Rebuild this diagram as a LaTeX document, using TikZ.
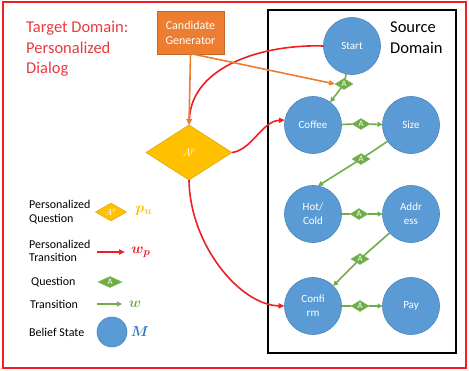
\documentclass[tikz,border=0pt]{standalone}
\usepackage{fontspec}
\usepackage{bm}
\setmainfont{Carlito}
\usetikzlibrary{shapes.geometric,arrows.meta}
\definecolor{fred}{HTML}{F01E23}
\definecolor{tred}{HTML}{EA3A3F}
\definecolor{orng}{HTML}{ED7D31}
\definecolor{orngd}{HTML}{C5682A}
\definecolor{blu}{HTML}{5B9BD5}
\definecolor{blud}{HTML}{4A85BD}
\definecolor{grn}{HTML}{70AD47}
\definecolor{gold}{HTML}{FFC000}
\definecolor{goldd}{HTML}{D9A300}
\definecolor{mblue}{HTML}{2E75C6}
\tikzset{
  state/.style={circle, fill=blu, draw=blud, line width=0.6pt, minimum size=57pt, inner sep=0pt, outer sep=0pt, text=white, align=center, font=\fontsize{11}{14}\selectfont},
  qa/.style={diamond, fill=grn, draw=grn!85!white, line width=0.4pt, minimum width=18pt, minimum height=11pt, inner sep=0pt, outer sep=0pt, text=white, font=\fontsize{8.5}{8.5}\selectfont, text height=4pt, text depth=0pt},
  pq/.style={diamond, fill=gold, draw=goldd, line width=0.5pt, inner sep=0pt, outer sep=0pt, text=white},
  gline/.style={draw=grn, line width=1.6pt},
  garrow/.style={draw=grn, line width=1.6pt, -{Triangle[length=5pt,width=5pt]}},
  rarrow/.style={draw=fred, line width=1.6pt, -{Triangle[length=6pt,width=5pt]}},
  oarrow/.style={draw=orng, line width=1.6pt, -{Triangle[length=6pt,width=5pt]}},
  legtext/.style={anchor=west, inner sep=0pt, align=left, font=\fontsize{12}{13.5}\selectfont},
  bigtext/.style={anchor=north west, inner sep=0pt, align=left, font=\fontsize{16.5}{20.5}\selectfont},
  mathsym/.style={inner sep=0pt, font=\fontsize{15}{15}\selectfont}
}
\begin{document}
\begin{tikzpicture}[x=1pt,y=-1pt]
\useasboundingbox (0,0) rectangle (469,370);
% frames
\draw[fred, line width=2pt] (3,2) rectangle (466,368);
\draw[black, line width=1.5pt] (268,10) rectangle (456,353);
% titles
\node[bigtext, text=tred] (tgt) at (26,21) {Target Domain:\\Personalized\\Dialog};
\node[bigtext] (src) at (390,22) {Source\\Domain};
% candidate generator
\node[rectangle, fill=orng, draw=orngd, line width=0.5pt, minimum width=67pt, minimum height=43pt, inner sep=0pt, outer sep=0pt, text=white, align=center, font=\fontsize{12}{15}\selectfont] (cand) at (190.5,32.5) {Candidate\\Generator};
% big personalized question
\node[pq, minimum width=86pt, minimum height=55pt, font=\fontsize{11}{11}\selectfont] (bigd) at (189,152.5) {$A^p$};
% states
\node[state] (start) at (352,46) {Start};
\node[state] (coffee) at (313,125) {Coffee};
\node[state] (size) at (411,125) {Size};
\node[state] (hot) at (313,214) {Hot/\\Cold};
\node[state] (addr) at (411,214) {Addr\\ess};
\node[state] (confirm) at (313,306) {Confi\\rm};
\node[state] (pay) at (411,306) {Pay};
% questions
\node[qa] (q1) at (344,84) {A};
\node[qa] (q2) at (361,124) {A};
\node[qa] (q3) at (361,159) {A};
\node[qa] (q4) at (359,214) {A};
\node[qa] (q5) at (360,259) {A};
\node[qa] (q6) at (360,306) {A};
% green transitions
\draw[gline] (start) -- (q1);
\draw[garrow] (q1) -- (coffee);
\draw[gline] (coffee) -- (q2);
\draw[garrow] (q2) -- (size);
\draw[gline] (size.215) -- (q3);
\draw[garrow] (q3) -- (hot.80);
\draw[gline] (hot) -- (q4);
\draw[garrow] (q4) -- (addr);
\draw[gline] (addr) -- (q5);
\draw[garrow] (q5) -- (confirm);
\draw[gline] (confirm) -- (q6);
\draw[garrow] (q6) -- (pay);
% red personalized transitions
\draw[rarrow] (start.west) .. controls (265,44) and (192,65) .. (bigd.north);
\draw[rarrow] (bigd.east) .. controls (252,150) and (262,121) .. (coffee.170);
\draw[rarrow] (bigd.south) .. controls (190,245) and (240,305) .. (confirm.west);
% orange
\draw[oarrow] (cand.south) -- (bigd.north);
\draw[oarrow] ([xshift=2pt]cand.south) -- (q1.west);
% legend
\node[legtext] (l1) at (29,212) {Personalized\\Question};
\node[pq, minimum width=31pt, minimum height=16pt, font=\fontsize{9}{9}\selectfont] (l1d) at (111,212) {$A^p$};
\node[mathsym, text=gold] (l1m) at (144,211) {$\bm{p_u}$};
\node[legtext] (l2) at (29,251) {Personalized\\Transition};
\coordinate (l2a) at (97,252);
\coordinate (l2b) at (125,252);
\draw[rarrow] (l2a) -- (l2b);
\node[mathsym, text=fred] (l2m) at (141,252) {$\bm{w_p}$};
\node[legtext] (l3) at (31,282) {Question};
\node[qa, minimum width=24pt] (l3d) at (110,282) {A};
\node[legtext] (l4) at (30,304.5) {Transition};
\coordinate (l4a) at (97,304);
\coordinate (l4b) at (122,304);
\draw[garrow] (l4a) -- (l4b);
\node[mathsym, text=grn] (l4m) at (135,304) {$\bm{w}$};
\node[legtext] (l5) at (29,332.5) {Belief State};
\node[state, minimum size=30pt] (l5c) at (112,332) {};
\node[mathsym, text=mblue] (l5m) at (140,332) {$\bm{M}$};
\end{tikzpicture}
\end{document}
